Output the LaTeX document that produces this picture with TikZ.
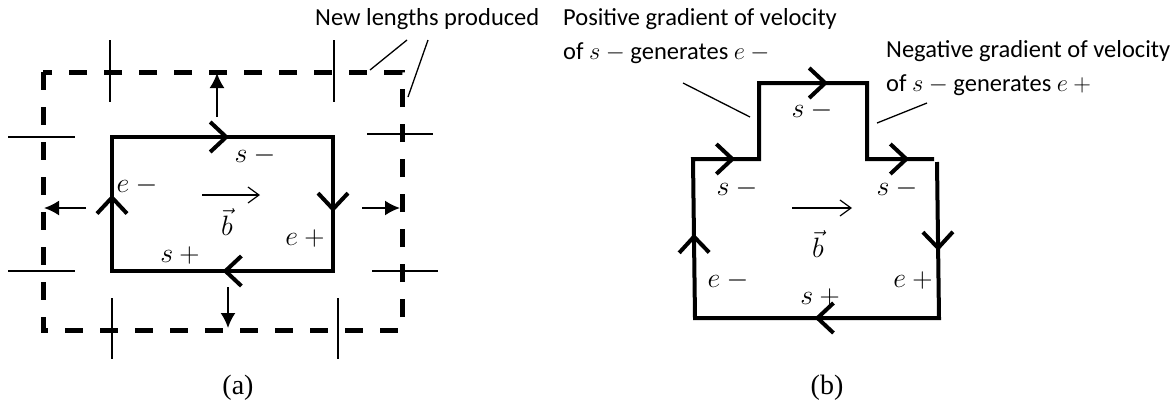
\documentclass[tikz,border=0pt]{standalone}
\usepackage{fix-cm}
\usepackage{fontspec}
\setmainfont{Carlito}
\newfontfamily\timesfont{Liberation Serif}
\usetikzlibrary{arrows.meta, decorations.markings}
\tikzset{
  outline/.style = {line width=4pt, line join=miter},
  boundary/.style = {line width=5pt, dash pattern=on 18pt off 17pt},
  cutmark/.style = {line width=1.2pt},
  leader/.style = {line width=1.3pt},
  push/.style = {-{Latex[length=15pt, width=15pt]}, line width=2pt},
  field/.style = {-{Straight Barb[length=11pt, width=16pt]}, line width=1.2pt},
  flow/.style = {postaction={decorate}, decoration={markings,
                 mark=at position #1 with {\arrow{Straight Barb[length=16pt, width=30pt]}}}},
  lbl/.style = {font=\fontsize{28}{32}\selectfont, inner sep=0pt},
  note/.style = {font=\fontsize{24.5}{34}\selectfont, anchor=base west, inner sep=0pt},
  sublabel/.style = {font=\timesfont\fontsize{28}{32}\selectfont, inner sep=0pt},
}

\begin{document}
\begin{tikzpicture}[x=1pt, y=-1pt]
  \useasboundingbox (0,0) rectangle (1175,413);

  % (a): loop and its grown boundary
  \coordinate (aTL) at (112,137);
  \coordinate (aTR) at (333,137);
  \coordinate (aBR) at (333,271);
  \coordinate (aBL) at (112,271);
  \draw[outline] (aTL) rectangle (aBR);
  \path[outline, flow=0.53] (aTL) -- (aTR);
  \path[outline, flow=0.56] (aTR) -- (aBR);
  \path[outline, flow=0.50] (aBR) -- (aBL);
  \path[outline, flow=0.57] (aBL) -- (aTL);

  \coordinate (dTL) at (43,72);
  \coordinate (dBR) at (402,330);
  \draw[boundary] (dTL) rectangle (dBR);

  % outward growth
  \coordinate (upS) at (217,117);  \coordinate (upE) at (217,73);
  \coordinate (lfS) at (86,208);   \coordinate (lfE) at (44,208);
  \coordinate (rtS) at (362,208);  \coordinate (rtE) at (400,208);
  \coordinate (dnS) at (228,287);  \coordinate (dnE) at (228,328);
  \draw[push] (upS) -- (upE);
  \draw[push] (lfS) -- (lfE);
  \draw[push] (rtS) -- (rtE);
  \draw[push] (dnS) -- (dnE);

  % new lengths marks
  \foreach \x/\ya/\yb in {110/40/102, 334/40/102, 112/298/359, 338/298/359}
    \draw[cutmark] (\x,\ya) -- (\x,\yb);
  \foreach \y/\xa/\xb in {137/8/75, 271/8/75, 134/367/433, 271/372/438}
    \draw[cutmark] (\xa,\y) -- (\xb,\y);

  \node[lbl] (aSm) at (255,155) {$s\:-$};
  \node[lbl] (aEm) at (137,185) {$e\:-$};
  \node[lbl] (aEp) at (305,238) {$e\:+$};
  \node[lbl] (aSp) at (180,255) {$s\:+$};
  \coordinate (aF0) at (202,195);
  \coordinate (aF1) at (260,195);
  \draw[field] (aF0) -- (aF1);
  \node[lbl] (aB) at (227,222) {$\vec{b}$};

  \node[note] (newlen) at (315,25) {New lengths produced};
  \draw[leader] (370,70) -- (407,40);
  \draw[leader] (408,97) -- (428,40);

  \node[sublabel] (capA) at (238,388) {(a)};

  % (b): loop with a step on top
  \coordinate (b1) at (937,162);
  \coordinate (b2) at (939,318);
  \coordinate (b3) at (695,318);
  \coordinate (b4) at (693,159);
  \coordinate (b5) at (759,159);
  \coordinate (b6) at (759,83);
  \coordinate (b7) at (867,83);
  \coordinate (b8) at (867,159);
  \coordinate (b9) at (934,159);
  \draw[outline] (b1) -- (b2) -- (b3) -- (b4) -- (b5) -- (b6) -- (b7) -- (b8) -- (b9);
  \path[outline, flow=0.57] (b1) -- (b2);
  \path[outline, flow=0.51] (b2) -- (b3);
  \path[outline, flow=0.53] (b3) -- (b4);
  \path[outline, flow=0.64] (b4) -- (b5);
  \path[outline, flow=0.64] (b6) -- (b7);
  \path[outline, flow=0.63] (b8) -- (b9);

  \node[lbl] (bSt) at (812,110) {$s\:-$};
  \node[lbl] (bSl) at (737,188) {$s\:-$};
  \node[lbl] (bSr) at (897,188) {$s\:-$};
  \node[lbl] (bEm) at (728,280) {$e\:-$};
  \node[lbl] (bEp) at (913,280) {$e\:+$};
  \node[lbl] (bSp) at (820,297) {$s\:+$};
  \coordinate (bF0) at (792,208);
  \coordinate (bF1) at (852,208);
  \draw[field] (bF0) -- (bF1);
  \node[lbl] (bB) at (818,244) {$\vec{b}$};

  \node[note] (pos1) at (563,25) {Positive gradient of velocity};
  \node[note] (pos2) at (563,59) {of $s\:-$ generates $e\:-$};
  \node[note] (neg1) at (886,57) {Negative gradient of velocity};
  \node[note] (neg2) at (886,91) {of $s\:-$ generates $e\:+$};
  \draw[leader] (683,83) -- (750,117);
  \draw[leader] (877,123) -- (927,103);

  \node[sublabel] (capB) at (827,388) {(b)};
\end{tikzpicture}
\end{document}
